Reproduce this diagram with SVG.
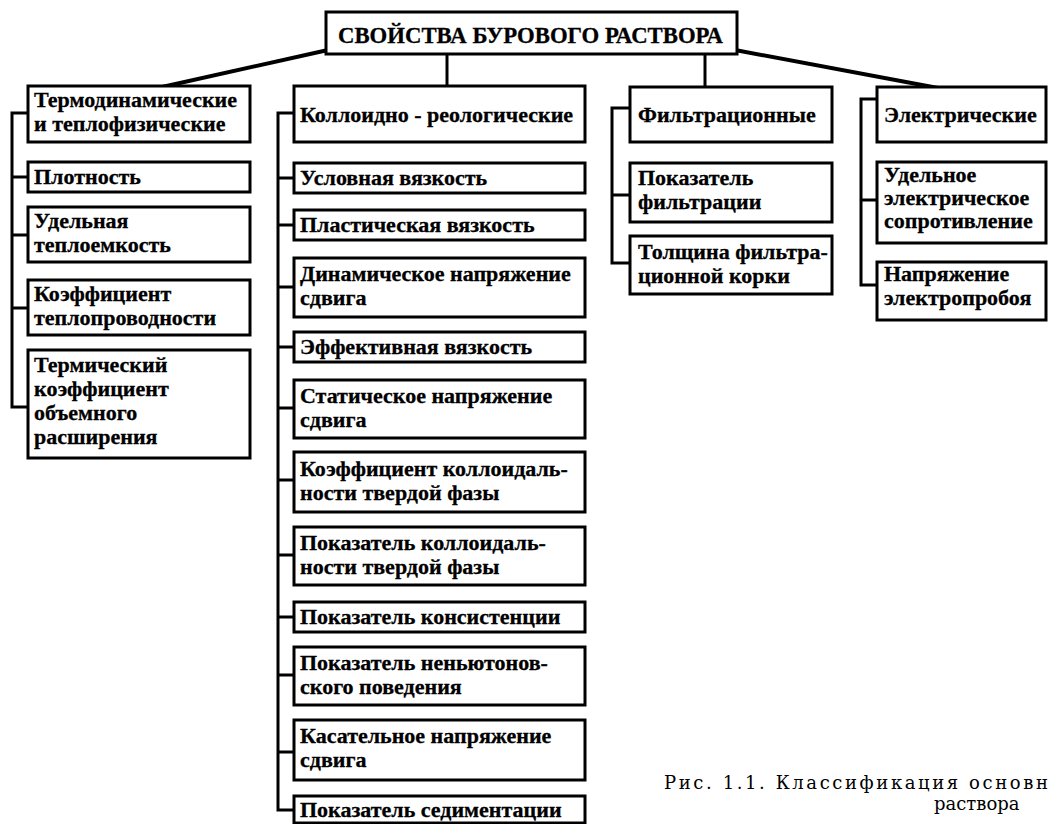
<svg xmlns="http://www.w3.org/2000/svg" width="1048" height="824" viewBox="0 0 1048 824">
<style>
.bg{fill:#fff}
.box{fill:#fff;stroke:#000;stroke-width:3}
.t{font-family:"Liberation Serif","Times New Roman",serif;font-weight:bold;font-size:22px;fill:#000;stroke:#000;stroke-width:0.3}
.h{font-family:"Liberation Serif","Times New Roman",serif;font-weight:bold;font-size:24px;fill:#000;stroke:#000;stroke-width:0.3}
.c{fill:none;stroke:#000;stroke-width:3}
.s{fill:none;stroke:#000;stroke-width:4}
.cap{font-family:"DejaVu Serif","Liberation Serif",serif;font-size:18px;fill:#000}
</style>
<rect class="bg" x="0" y="0" width="1048" height="824"/>
<g id="connectors">
<line class="s" x1="328" y1="50" x2="162" y2="87"/>
<line class="s" x1="735" y1="50" x2="938" y2="88"/>
<line class="c" x1="447" y1="54" x2="447" y2="87"/>
<line class="c" x1="705" y1="54" x2="705" y2="88"/>
<path class="c" d="M28,113 H12 V407 H28 M12,177 H28 M12,235 H28 M12,308 H28"/>
<path class="c" d="M294,113 H278 V810 H294 M278,178 H294 M278,225 H294 M278,287 H294 M278,347 H294 M278,408 H294 M278,480 H294 M278,555 H294 M278,617 H294 M278,675 H294 M278,752 H294"/>
<path class="c" d="M630,108 H612 V263 H630 M612,195 H630"/>
<path class="c" d="M877,99 H861 V285 H877 M861,200 H877"/>
</g>
<g id="root">
<rect class="box" x="326" y="12" width="411" height="42"/>
<text class="h" x="338" y="43" textLength="385" lengthAdjust="spacingAndGlyphs">СВОЙСТВА  БУРОВОГО РАСТВОРА</text>
</g>
<g id="thermo">
<rect class="box" x="28" y="86" width="222" height="56"/>
<text class="t" x="34" y="107">Термодинамические</text>
<text class="t" x="34" y="131">и теплофизические</text>
</g>
<g id="density">
<rect class="box" x="28" y="162" width="222" height="30"/>
<text class="t" x="34" y="184">Плотность</text>
</g>
<g id="heat-capacity">
<rect class="box" x="28" y="207" width="222" height="55"/>
<text class="t" x="34" y="228">Удельная</text>
<text class="t" x="34" y="252">теплоемкость</text>
</g>
<g id="conductivity">
<rect class="box" x="28" y="280" width="222" height="55"/>
<text class="t" x="34" y="301">Коэффициент</text>
<text class="t" x="34" y="325">теплопроводности</text>
</g>
<g id="expansion">
<rect class="box" x="28" y="350" width="222" height="108"/>
<text class="t" x="34" y="372">Термический</text>
<text class="t" x="34" y="396">коэффициент</text>
<text class="t" x="34" y="420">объемного</text>
<text class="t" x="34" y="444">расширения</text>
</g>
<g id="colloid">
<rect class="box" x="294" y="86" width="291" height="56"/>
<text class="t" x="300" y="122">Коллоидно - реологические</text>
</g>
<g id="m1">
<rect class="box" x="294" y="163" width="291" height="30"/>
<text class="t" x="300" y="185">Условная вязкость</text>
</g>
<g id="m2">
<rect class="box" x="294" y="210" width="291" height="30"/>
<text class="t" x="300" y="232">Пластическая вязкость</text>
</g>
<g id="m3">
<rect class="box" x="294" y="258" width="291" height="59"/>
<text class="t" x="300" y="281">Динамическое напряжение</text>
<text class="t" x="300" y="305">сдвига</text>
</g>
<g id="m4">
<rect class="box" x="294" y="332" width="291" height="30"/>
<text class="t" x="300" y="354">Эффективная вязкость</text>
</g>
<g id="m5">
<rect class="box" x="294" y="380" width="291" height="58"/>
<text class="t" x="300" y="403">Статическое напряжение</text>
<text class="t" x="300" y="427">сдвига</text>
</g>
<g id="m6">
<rect class="box" x="294" y="452" width="291" height="60"/>
<text class="t" x="300" y="476">Коэффициент коллоидаль-</text>
<text class="t" x="300" y="500">ности твердой фазы</text>
</g>
<g id="m7">
<rect class="box" x="294" y="527" width="291" height="58"/>
<text class="t" x="300" y="550">Показатель коллоидаль-</text>
<text class="t" x="300" y="574">ности твердой фазы</text>
</g>
<g id="m8">
<rect class="box" x="294" y="602" width="291" height="30"/>
<text class="t" x="300" y="624">Показатель консистенции</text>
</g>
<g id="m9">
<rect class="box" x="294" y="647" width="291" height="58"/>
<text class="t" x="300" y="670">Показатель неньютонов-</text>
<text class="t" x="300" y="694">ского поведения</text>
</g>
<g id="m10">
<rect class="box" x="294" y="720" width="291" height="60"/>
<text class="t" x="300" y="743">Касательное напряжение</text>
<text class="t" x="300" y="767">сдвига</text>
</g>
<g id="m11">
<rect class="box" x="294" y="796" width="291" height="27"/>
<text class="t" x="300" y="817">Показатель седиментации</text>
</g>
<g id="filtration">
<rect class="box" x="630" y="87" width="202" height="55"/>
<text class="t" x="638" y="122">Фильтрационные</text>
</g>
<g id="f1">
<rect class="box" x="630" y="163" width="202" height="59"/>
<text class="t" x="638" y="185">Показатель</text>
<text class="t" x="638" y="209">фильтрации</text>
</g>
<g id="f2">
<rect class="box" x="630" y="236" width="202" height="58"/>
<text class="t" x="638" y="259">Толщина фильтра-</text>
<text class="t" x="638" y="283">ционной корки</text>
</g>
<g id="electric">
<rect class="box" x="877" y="87" width="169" height="55"/>
<text class="t" x="884" y="122">Электрические</text>
</g>
<g id="e1">
<rect class="box" x="877" y="162" width="169" height="81"/>
<text class="t" x="884" y="182">Удельное</text>
<text class="t" x="884" y="205">электрическое</text>
<text class="t" x="884" y="228">сопротивление</text>
</g>
<g id="e2">
<rect class="box" x="877" y="262" width="169" height="58"/>
<text class="t" x="884" y="281">Напряжение</text>
<text class="t" x="884" y="305">электропробоя</text>
</g>
<g id="caption">
<text class="cap" x="664" y="789" textLength="384" lengthAdjust="spacing">Рис.  1.1.  Классификация  основн</text>
<text class="cap" x="934" y="810">раствора</text>
</g>
</svg>
